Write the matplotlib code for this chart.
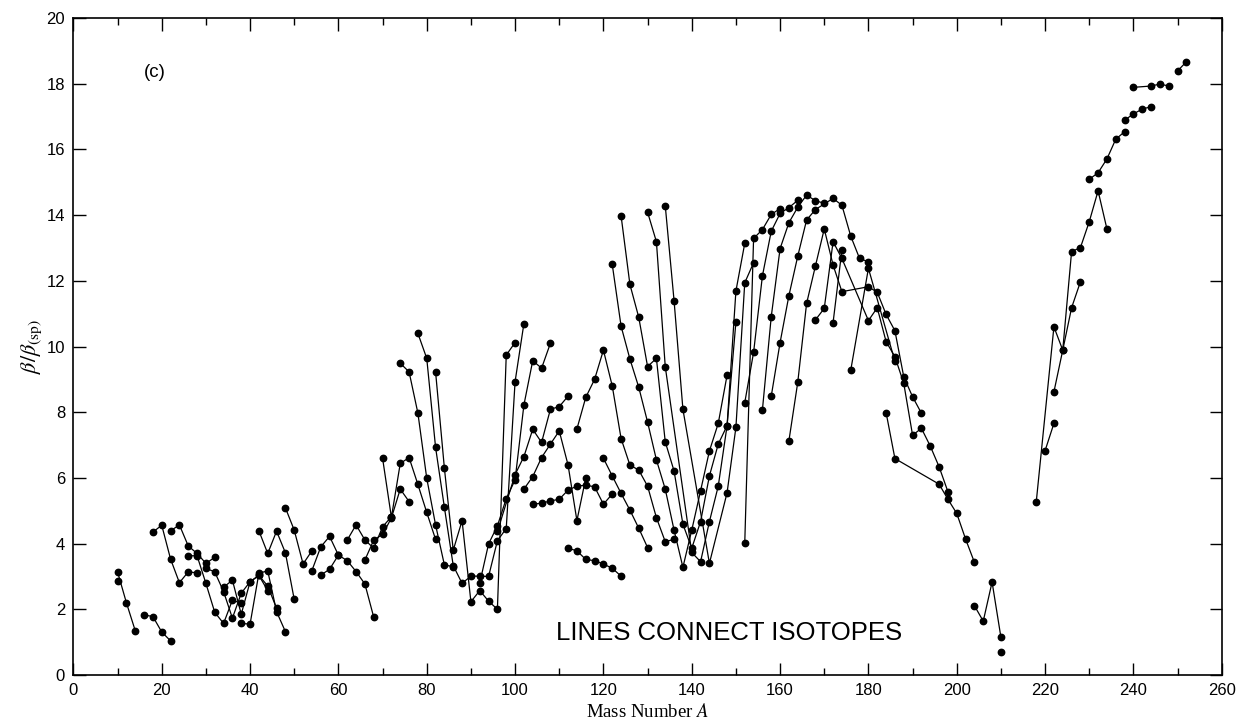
import matplotlib
matplotlib.use("Agg")
import matplotlib.pyplot as plt
from matplotlib.ticker import MultipleLocator

plt.rcParams['font.family'] = ['Liberation Sans', 'DejaVu Sans']
plt.rcParams['mathtext.fontset'] = 'stix'

# isotope chains: (mass numbers, beta/beta_sp)
Be = ([10], [2.86])
C = ([10, 12, 14], [3.14, 2.20, 1.35])
O = ([16, 18, 20, 22], [1.83, 1.78, 1.31, 1.04])
Ne = ([18, 20, 22, 24, 26, 28], [4.35, 4.56, 3.53, 2.81, 3.14, 3.11])
Mg = ([22, 24, 26, 28, 30, 32], [4.39, 4.57, 3.93, 3.70, 3.40, 3.58])
Si = ([26, 28, 30, 32, 34, 36, 38], [3.63, 3.63, 2.79, 1.91, 1.57, 2.28, 2.18])
S = ([30, 32, 34, 36, 38, 40, 42, 44], [3.25, 3.14, 2.54, 1.73, 2.49, 2.84, 3.03, 2.57])
Ar = ([34, 36, 38, 40, 42, 44, 46], [2.67, 2.89, 1.85, 2.84, 3.03, 2.71, 2.03])
Ca = ([38, 40, 42, 44, 46, 48], [1.57, 1.55, 3.10, 3.17, 1.93, 1.32])
Ti = ([42, 44, 46, 48, 50], [4.39, 3.70, 4.38, 3.72, 2.30])
Cr = ([48, 50, 52, 54], [5.09, 4.41, 3.38, 3.78])
Fe = ([54, 56, 58, 60], [3.18, 3.90, 4.22, 3.65])
Ni = ([56, 58, 60, 62, 64, 66, 68], [3.04, 3.22, 3.65, 3.48, 3.15, 2.77, 1.76])
Zn = ([62, 64, 66, 68, 70, 72], [4.11, 4.57, 4.11, 3.86, 4.51, 4.82])
Ge = ([66, 68, 70, 72, 74, 76], [3.50, 4.11, 4.28, 4.78, 5.66, 5.28])
Se = ([70, 72, 74, 76, 78, 80, 82], [6.60, 4.80, 6.44, 6.62, 5.80, 4.95, 4.13])
Kr = ([74, 76, 78, 80, 82, 84, 86], [9.49, 9.23, 7.97, 5.99, 4.57, 3.35, 3.30])
Sr = ([78, 80, 82, 84, 86, 88, 90, 92, 94, 96, 98, 100, 102],
      [10.40, 9.64, 6.93, 5.10, 3.33, 2.79, 3.01, 3.01, 3.00, 4.09, 4.46, 8.93, 10.70])
Zr = ([82, 84, 86, 88, 90, 92, 94, 96, 98, 100],
      [9.23, 6.29, 3.80, 4.70, 2.23, 2.57, 2.25, 2.00, 9.74, 10.12])
Mo = ([92, 94, 96, 98, 100, 102, 104, 106, 108],
      [2.80, 3.99, 4.54, 5.37, 5.94, 8.22, 9.57, 9.34, 10.10])
Ru = ([96, 100, 102, 104, 106, 108, 110, 112],
      [4.37, 6.10, 6.65, 7.48, 7.08, 8.09, 8.17, 8.49])
Pd = ([102, 104, 106, 108, 110, 112, 114, 116],
      [5.66, 6.04, 6.62, 7.03, 7.43, 6.39, 4.70, 5.99])
Cd = ([104, 106, 108, 110, 112, 114, 116, 118, 120, 122],
      [5.20, 5.23, 5.30, 5.35, 5.63, 5.75, 5.78, 5.73, 5.20, 5.51])
Sn = ([112, 114, 116, 118, 120, 122, 124], [3.86, 3.78, 3.52, 3.48, 3.38, 3.25, 3.01])
Te = ([120, 122, 124, 126, 128, 130], [6.60, 6.06, 5.53, 5.02, 4.47, 3.88])
Xe = ([114, 116, 118, 120, 122, 124, 126, 128, 130, 132, 134, 136],
      [7.49, 8.45, 9.00, 9.89, 8.80, 7.20, 6.39, 6.24, 5.75, 4.79, 4.06, 4.13])
Ba = ([122, 124, 126, 128, 130, 132, 134, 136, 138, 140, 142, 144, 146, 148],
      [12.50, 10.62, 9.62, 8.76, 7.70, 6.55, 5.66, 4.41, 3.28, 4.41, 5.61, 6.82, 7.66, 9.13])
Ce = ([124, 126, 128, 130, 132, 134, 136, 138, 140, 142, 144, 146, 148, 150],
      [13.98, 11.89, 10.89, 9.39, 9.64, 7.10, 6.21, 4.59, 3.86, 4.67, 6.06, 7.03, 7.59, 10.75])
Nd = ([130, 132, 134, 140, 142, 144, 146, 148, 150, 152],
      [14.09, 13.19, 9.39, 3.73, 3.45, 4.67, 5.75, 7.59, 11.69, 13.14])
Sm = ([134, 136, 138, 144, 148, 150, 152, 154],
      [14.29, 11.39, 8.09, 3.40, 5.55, 7.54, 11.94, 12.55])
Gd = ([152, 154, 156, 158, 160], [4.01, 13.29, 13.56, 14.02, 14.20])
Dy = ([152, 154, 156, 158, 160, 162, 164], [8.29, 9.82, 12.15, 13.51, 14.05, 14.23, 14.45])
Er = ([156, 158, 160, 162, 164, 166, 168, 170], [8.07, 10.91, 12.98, 13.77, 14.24, 14.61, 14.44, 14.36])
Yb = ([158, 160, 162, 164, 166, 168, 172, 174, 176, 178, 180],
      [8.49, 10.12, 11.55, 12.75, 13.85, 14.17, 14.51, 14.30, 13.36, 12.68, 12.58])
Hf = ([162, 164, 166, 168, 170, 172, 174, 180, 182, 184, 186, 188, 190, 192],
      [7.13, 8.91, 11.31, 12.45, 13.58, 12.48, 11.67, 11.82, 11.65, 10.98, 10.48, 9.08, 8.47, 7.97])
W = ([168, 170, 172, 174, 180, 182, 184, 186, 188, 190, 192, 194, 196, 198],
     [10.81, 11.16, 13.19, 12.68, 10.79, 11.18, 10.15, 9.69, 8.88, 7.30, 7.51, 6.97, 6.34, 5.58])
Os = ([172, 174], [10.73, 12.94])
Pt = ([176, 180, 186], [9.28, 12.38, 9.55])
Hg = ([184, 186, 196, 198, 200, 202, 204], [7.99, 6.59, 5.81, 5.35, 4.92, 4.14, 3.43])
Pb = ([204, 206, 208, 210], [2.11, 1.64, 2.83, 1.15])
Po = ([210], [0.71])
Rn = ([220, 222], [6.83, 7.66])
Ra = ([218, 222, 224, 226, 228], [5.27, 10.60, 9.89, 11.18, 11.97])
Th = ([222, 224, 226, 228, 230, 232, 234], [8.62, 9.89, 12.89, 13.01, 13.80, 14.74, 13.58])
U = ([230, 232, 234, 236, 238], [15.09, 15.29, 15.71, 16.31, 16.54])
Pu = ([238, 240, 242, 244], [16.89, 17.08, 17.23, 17.30])
Cm = ([240, 244, 246, 248], [17.89, 17.93, 17.99, 17.93])
Cf = ([250, 252], [18.39, 18.67])

chains = [Be, C, O, Ne, Mg, Si, S, Ar, Ca, Ti, Cr, Fe, Ni, Zn, Ge, Se, Kr, Sr, Zr,
          Mo, Ru, Pd, Cd, Sn, Te, Xe, Ba, Ce, Nd, Sm, Gd, Dy, Er, Yb, Hf, W, Os, Pt,
          Hg, Pb, Po, Rn, Ra, Th, U, Pu, Cm, Cf]

fig = plt.figure(figsize=(12.42, 7.27), dpi=100)
ax = fig.add_axes([0.0591, 0.0715, 0.9246, 0.9037])

for a, b in chains:
    ax.plot(a, b, '-', color='black', lw=0.9, marker='o', ms=4.6,
            mfc='black', mec='black')

ax.set_xlim(0, 260)
ax.set_ylim(0, 20)
ax.xaxis.set_major_locator(MultipleLocator(20))
ax.xaxis.set_minor_locator(MultipleLocator(10))
ax.yaxis.set_major_locator(MultipleLocator(2))
ax.tick_params(which='both', direction='in', top=True, right=True, labelsize=12,
               width=1.0, pad=6)
ax.tick_params(which='major', length=9)
ax.tick_params(which='minor', length=5)
for sp in ax.spines.values():
    sp.set_linewidth(1.2)

ax.set_xlabel(r'Mass Number $\mathit{A}$', family='Liberation Serif', fontsize=13.5,
              labelpad=3)
ax.set_ylabel(r'$\beta/\beta_{(\mathrm{sp})}$', fontsize=16, labelpad=2)

ax.text(18.5, 18.35, '(c)', fontsize=13.5, ha='center', va='center')
ax.text(109.3, 1.28, 'LINES CONNECT ISOTOPES', fontsize=18.5, ha='left', va='center')

fig.savefig('out.png', dpi=100)
